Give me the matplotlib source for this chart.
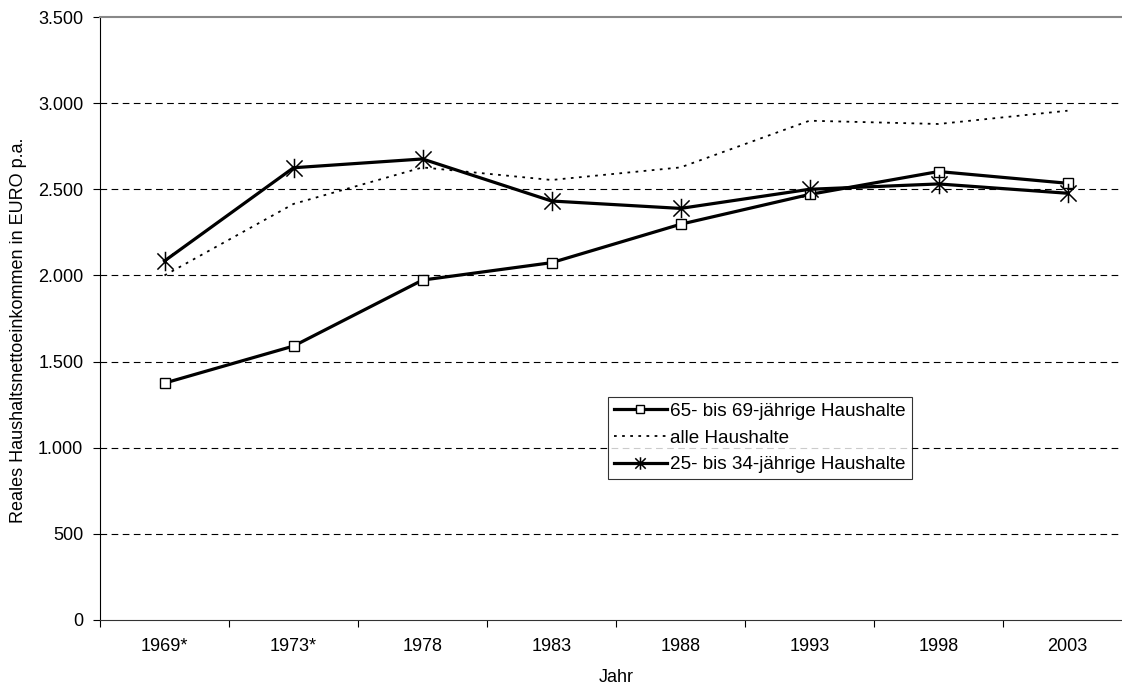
import numpy as np
import matplotlib
matplotlib.use('Agg')
import matplotlib.pyplot as plt
from matplotlib.path import Path

plt.rcParams['font.family'] = ['Liberation Sans', 'DejaVu Sans']

# Data
jahre = ['1969*', '1973*', '1978', '1983', '1988', '1993', '1998', '2003']
hh_65_69 = [1375, 1590, 1973, 2074, 2297, 2470, 2603, 2535]
alle_hh = [2000, 2415, 2627, 2554, 2627, 2898, 2879, 2956]
hh_25_34 = [2084, 2625, 2676, 2432, 2389, 2500, 2531, 2477]
y_ticks = [0, 500, 1000, 1500, 2000, 2500, 3000, 3500]
y_tick_labels = ['0', '500', '1.000', '1.500', '2.000', '2.500', '3.000', '3.500']

FS = 13

# X with a vertical bar, like the Excel marker
star_x = Path([(-1, -1), (1, 1), (-1, 1), (1, -1), (0, -1.2), (0, 1.2)],
              [Path.MOVETO, Path.LINETO, Path.MOVETO, Path.LINETO, Path.MOVETO, Path.LINETO])

fig = plt.figure(figsize=(11.22, 6.85), dpi=100)
# axes runs past the right image edge, as in the cropped original
ax = fig.add_axes([100 / 1122, 65 / 685, 1032 / 1122, 603 / 685])

x = np.arange(1, len(jahre) + 1)

for val in y_ticks[1:-1]:
    ax.axhline(val, color='black', lw=0.8, ls=(0, (6, 4)), zorder=1)

ax.plot(x, hh_65_69, color='black', lw=2.3, marker='s', ms=6.5,
        mfc='white', mec='black', mew=1.0, label='65- bis 69-jährige Haushalte', zorder=3)
ax.plot(x, alle_hh, color='black', lw=1.3, ls=(0, (1.5, 3)),
        label='alle Haushalte', zorder=2)
ax.plot(x, hh_25_34, color='black', lw=2.3, marker=star_x, ms=14,
        mew=1.1, label='25- bis 34-jährige Haushalte', zorder=4)

ax.set_xlim(0.5, len(jahre) + 0.5)
ax.set_ylim(0, 3500)

ax.set_yticks(y_ticks)
ax.set_yticklabels(y_tick_labels, fontsize=FS)
ax.tick_params(axis='y', length=5, width=0.8, pad=7)

ax.set_xticks(np.arange(0.5, len(jahre) + 1, 1))
ax.set_xticklabels([])
ax.set_xticks(x, minor=True)
ax.set_xticklabels(jahre, minor=True, fontsize=FS)
ax.tick_params(axis='x', which='major', length=5, width=0.8)
ax.tick_params(axis='x', which='minor', length=0, pad=13)

ax.spines['left'].set_color('black')
ax.spines['bottom'].set_color('#333333')
ax.spines['top'].set_color('#888888')
ax.spines['top'].set_linewidth(1.5)
ax.spines['right'].set_visible(False)

ax.set_xlabel('Jahr', fontsize=FS, labelpad=10)
ax.set_ylabel('Reales Haushaltsnettoeinkommen in EURO p.a.', fontsize=FS)
ax.yaxis.set_label_coords(-0.071, 0.48)

leg = ax.legend(loc='upper left', bbox_to_anchor=((608 - 100) / 1032, (620 - 397) / 603),
                fontsize=13.6, frameon=True, fancybox=False, edgecolor='black',
                handlelength=2.8, handletextpad=0.2, borderpad=0.3, labelspacing=0.5,
                borderaxespad=0)
leg.get_frame().set_linewidth(0.8)
handles = leg.legend_handles
handles[0].set_markersize(5.5)
handles[2].set_markersize(9)

plt.savefig('out.png', dpi=100)
